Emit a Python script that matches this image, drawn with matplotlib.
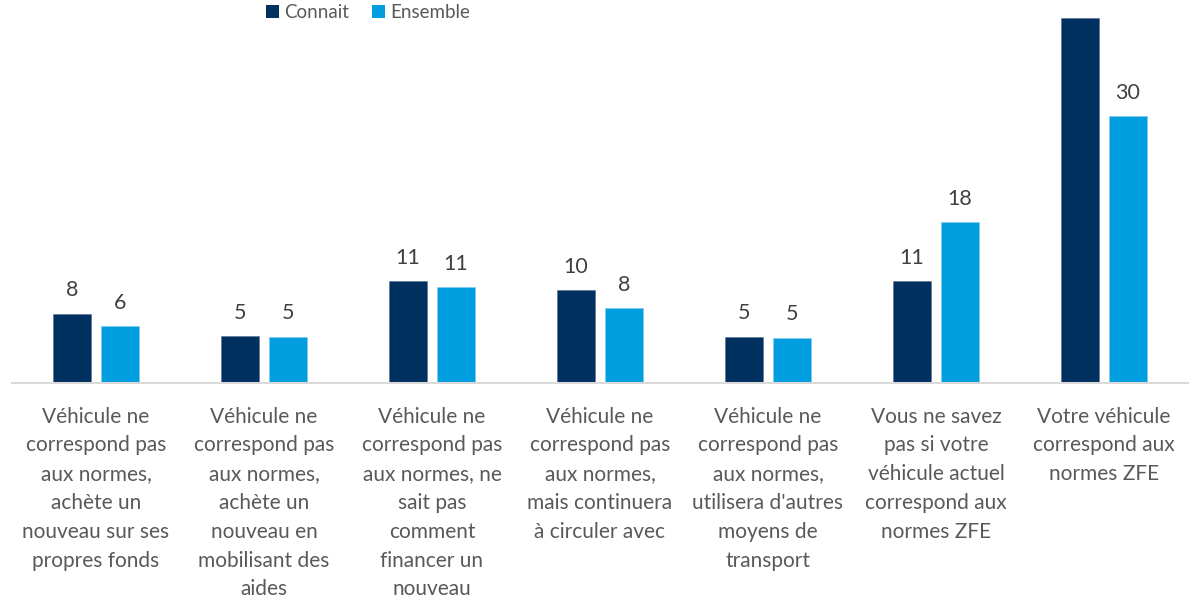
import matplotlib
matplotlib.use("Agg")
import matplotlib.pyplot as plt
import numpy as np
from matplotlib.patches import Patch

categories = [
    "Véhicule ne\ncorrespond pas\naux normes,\nachète un\nnouveau sur ses\npropres fonds",
    "Véhicule ne\ncorrespond pas\naux normes,\nachète un\nnouveau en\nmobilisant des\naides",
    "Véhicule ne\ncorrespond pas\naux normes, ne\nsait pas\ncomment\nfinancer un\nnouveau",
    "Véhicule ne\ncorrespond pas\naux normes,\nmais continuera\nà circuler avec",
    "Véhicule ne\ncorrespond pas\naux normes,\nutilisera d'autres\nmoyens de\ntransport",
    "Vous ne savez\npas si votre\nvéhicule actuel\ncorrespond aux\nnormes ZFE",
    "Votre véhicule\ncorrespond aux\nnormes ZFE",
]
connait = [7.8, 5.3, 11.4, 10.4, 5.2, 11.4, 41.0]
ensemble = [6.4, 5.2, 10.8, 8.4, 5.1, 18.1, 30.0]
connait_labels = ["8", "5", "11", "10", "5", "11", ""]
ensemble_labels = ["6", "5", "11", "8", "5", "18", "30"]

FONT = ["Lato", "DejaVu Sans"]
plt.rcParams["font.family"] = FONT

c_dark = "#00305F"
c_light = "#009EDF"

fig = plt.figure(figsize=(12.03, 6.01), dpi=100)
ax = fig.add_axes([12 / 1203, (601 - 383) / 601, 1176 / 1203, 383 / 601])

x = np.arange(len(categories))
w = 0.226
off = 0.143
b1 = ax.bar(x - off, connait, width=w, color=c_dark, edgecolor="#5a7090", linewidth=0.4)
b2 = ax.bar(x + off, ensemble, width=w, color=c_light, edgecolor="#7fcaf0", linewidth=0.4)

for bars, labels in ((b1, connait_labels), (b2, ensemble_labels)):
    for rect, lab in zip(bars, labels):
        if lab:
            ax.annotate(lab, (rect.get_x() + rect.get_width() / 2, rect.get_height()),
                        xytext=(0, 9.5), textcoords="offset points", ha="center", va="bottom",
                        fontsize=15.5, color="#404040")

ax.set_xlim(-0.5, len(categories) - 0.5)
ax.set_ylim(0, 43.0)
ax.set_yticks([])
ax.set_xticks(x)
ax.set_xticklabels(categories, fontsize=15, color="#595959", linespacing=1.55)
ax.tick_params(axis="x", length=0, pad=17)
for s in ["top", "right", "left"]:
    ax.spines[s].set_visible(False)
ax.spines["bottom"].set_color("#D9D9D9")
ax.spines["bottom"].set_linewidth(1.5)

handles = [Patch(facecolor=c_dark, label="Connait"), Patch(facecolor=c_light, label="Ensemble")]
fig.legend(handles=handles, loc="upper center", bbox_to_anchor=(0.306, 1.022), ncol=2,
           frameon=False, fontsize=13.5, handlelength=0.7, handleheight=0.7,
           handletextpad=0.3, columnspacing=1.2, labelcolor="#595959")

fig.savefig("out.png", dpi=100)
